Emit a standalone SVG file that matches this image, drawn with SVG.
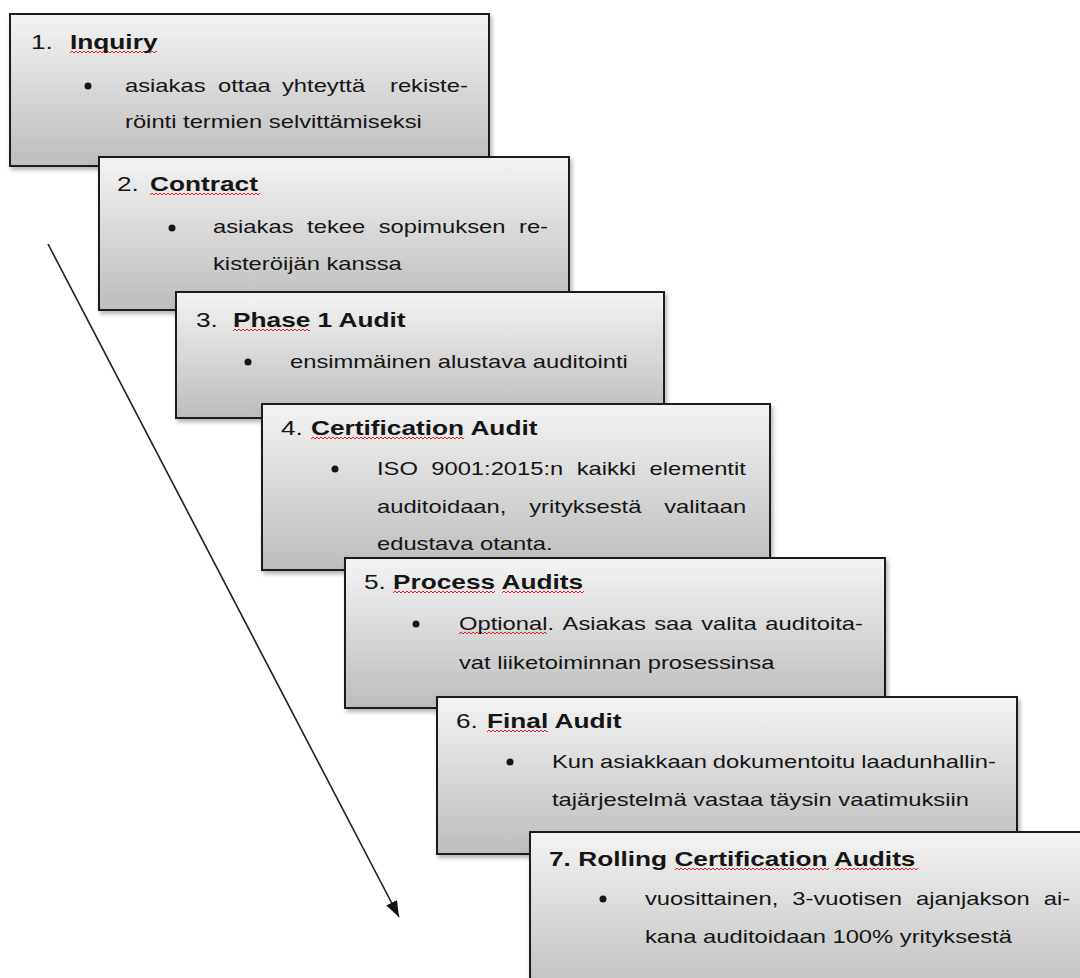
<svg xmlns="http://www.w3.org/2000/svg" xmlns:xlink="http://www.w3.org/1999/xlink" width="1080" height="978" viewBox="0 0 1080 978">
  <style>
    .box { fill: url(#boxFill); stroke: #1e1e1e; stroke-width: 2; filter: url(#shadow); }
    .t { font-family: "Liberation Sans", Arial, sans-serif; fill: #151515; }
    .num { font-size: 21px; }
    .head { font-size: 21px; font-weight: bold; }
    .body { font-size: 19px; }
    .dot { fill: #151515; }
    .squig { fill: url(#squiggle); }
    .arrow { stroke: #1e1e1e; stroke-width: 1.6; fill: none; }
  </style>
  <defs>
    <linearGradient id="boxFill" x1="0" y1="0" x2="0" y2="1">
      <stop offset="0" stop-color="#f3f3f3"/>
      <stop offset="1" stop-color="#bdbdbd"/>
    </linearGradient>
    <filter id="shadow" x="-5%" y="-5%" width="112%" height="115%">
      <feDropShadow dx="2" dy="3" stdDeviation="2" flood-color="#000" flood-opacity="0.3"/>
    </filter>
    <!-- spell-check style wavy underline -->
    <pattern id="squiggle" width="4" height="4" patternUnits="userSpaceOnUse">
      <path d="M0,3 L2,1 L4,3" fill="none" stroke="#e02020" stroke-width="1"/>
    </pattern>
    <marker id="head" viewBox="0 0 16 12" refX="16" refY="6" markerWidth="16" markerHeight="12" markerUnits="userSpaceOnUse" orient="auto">
      <path d="M0,0 L16,6 L0,12 z" fill="#111"/>
    </marker>
  </defs>

  <g id="connectors">
    <line class="arrow" x1="48" y1="244" x2="399" y2="917" marker-end="url(#head)"/>
  </g>

  <!-- 1. Inquiry -->
  <g id="step1">
    <rect class="box" x="10" y="14" width="479" height="152"/>
    <circle class="dot" cx="88" cy="86" r="3.5"/>
    <rect class="squig" transform="translate(70,50)" width="87" height="4"/>
    <g transform="scale(1.25,1)">
      <text class="t num" x="24.8" y="49">1.</text>
      <text class="t head" x="56" y="49">Inquiry</text>
      <text class="t body" y="92"><tspan x="100">asiakas</tspan><tspan x="174.4">ottaa</tspan><tspan x="225.6">yhteyttä</tspan><tspan x="312">rekiste-</tspan></text>
      <text class="t body" x="100" y="128">röinti termien selvittämiseksi</text>
    </g>
  </g>

  <!-- 2. Contract -->
  <g id="step2">
    <rect class="box" x="99" y="157" width="470" height="153"/>
    <circle class="dot" cx="172" cy="228" r="3.5"/>
    <rect class="squig" transform="translate(150,192)" width="110" height="4"/>
    <g transform="scale(1.25,1)">
      <text class="t num" x="93.6" y="191">2.</text>
      <text class="t head" x="120" y="191">Contract</text>
      <text class="t body" y="233"><tspan x="170.4">asiakas</tspan><tspan x="245.7">tekee</tspan><tspan x="303">sopimuksen</tspan><tspan x="415.2">re-</tspan></text>
      <text class="t body" x="170.4" y="270">kisteröijän kanssa</text>
    </g>
  </g>

  <!-- 3. Phase 1 Audit -->
  <g id="step3">
    <rect class="box" x="176" y="292" width="488" height="126"/>
    <circle class="dot" cx="248" cy="362" r="3.5"/>
    <rect class="squig" transform="translate(233,328)" width="77" height="4"/>
    <g transform="scale(1.25,1)">
      <text class="t num" x="156.8" y="327">3.</text>
      <text class="t head" x="186.4" y="327">Phase 1 Audit</text>
      <text class="t body" x="232" y="368">ensimmäinen alustava auditointi</text>
    </g>
  </g>

  <!-- 4. Certification Audit -->
  <g id="step4">
    <rect class="box" x="262" y="404" width="508" height="166"/>
    <circle class="dot" cx="335" cy="469" r="3.5"/>
    <rect class="squig" transform="translate(311,436)" width="153" height="4"/>
    <g transform="scale(1.25,1)">
      <text class="t num" x="224.8" y="435">4.</text>
      <text class="t head" x="248.8" y="435">Certification Audit</text>
      <text class="t body" y="475"><tspan x="301.6">ISO</tspan><tspan x="345">9001:2015:n</tspan><tspan x="461.4">kaikki</tspan><tspan x="519.6">elementit</tspan></text>
      <text class="t body" y="513"><tspan x="301.6">auditoidaan,</tspan><tspan x="423.4">yrityksestä</tspan><tspan x="531.4">valitaan</tspan></text>
      <text class="t body" x="301.6" y="550">edustava otanta.</text>
    </g>
  </g>

  <!-- 5. Process Audits -->
  <g id="step5">
    <rect class="box" x="345" y="558" width="540" height="150"/>
    <circle class="dot" cx="416" cy="624" r="3.5"/>
    <rect class="squig" transform="translate(393,590)" width="102" height="4"/>
    <rect class="squig" transform="translate(502,590)" width="82" height="4"/>
    <rect class="squig" transform="translate(459,631)" width="88" height="4"/>
    <g transform="scale(1.25,1)">
      <text class="t num" x="291.2" y="589">5.</text>
      <text class="t head" x="314.4" y="589">Process Audits</text>
      <text class="t body" y="630"><tspan x="367.2">Optional.</tspan><tspan x="450.1">Asiakas</tspan><tspan x="523.4">saa</tspan><tspan x="561">valita</tspan><tspan x="612.2">auditoita-</tspan></text>
      <text class="t body" x="367.2" y="669">vat liiketoiminnan prosessinsa</text>
    </g>
  </g>

  <!-- 6. Final Audit -->
  <g id="step6">
    <rect class="box" x="437" y="697" width="580" height="157"/>
    <circle class="dot" cx="510" cy="762" r="3.5"/>
    <rect class="squig" transform="translate(487,729)" width="61" height="4"/>
    <g transform="scale(1.25,1)">
      <text class="t num" x="364.8" y="728">6.</text>
      <text class="t head" x="389.6" y="728">Final Audit</text>
      <text class="t body" y="768"><tspan x="441.6">Kun</tspan><tspan x="480.1">asiakkaan</tspan><tspan x="570.2">dokumentoitu</tspan><tspan x="689">laadunhallin-</tspan></text>
      <text class="t body" x="441.6" y="806">tajärjestelmä vastaa täysin vaatimuksiin</text>
    </g>
  </g>

  <!-- 7. Rolling Certification Audits -->
  <g id="step7">
    <rect class="box" x="530" y="832" width="570" height="170"/>
    <circle class="dot" cx="603" cy="899" r="3.5"/>
    <rect class="squig" transform="translate(675,867)" width="154" height="4"/>
    <rect class="squig" transform="translate(836,867)" width="82" height="4"/>
    <g transform="scale(1.25,1)">
      <text class="t head" x="439.2" y="866">7. Rolling Certification Audits</text>
      <text class="t body" y="905"><tspan x="516">vuosittainen,</tspan><tspan x="633.9">3-vuotisen</tspan><tspan x="732.9">ajanjakson</tspan><tspan x="835">ai-</tspan></text>
      <text class="t body" x="516" y="943">kana auditoidaan 100% yrityksestä</text>
    </g>
  </g>
</svg>
